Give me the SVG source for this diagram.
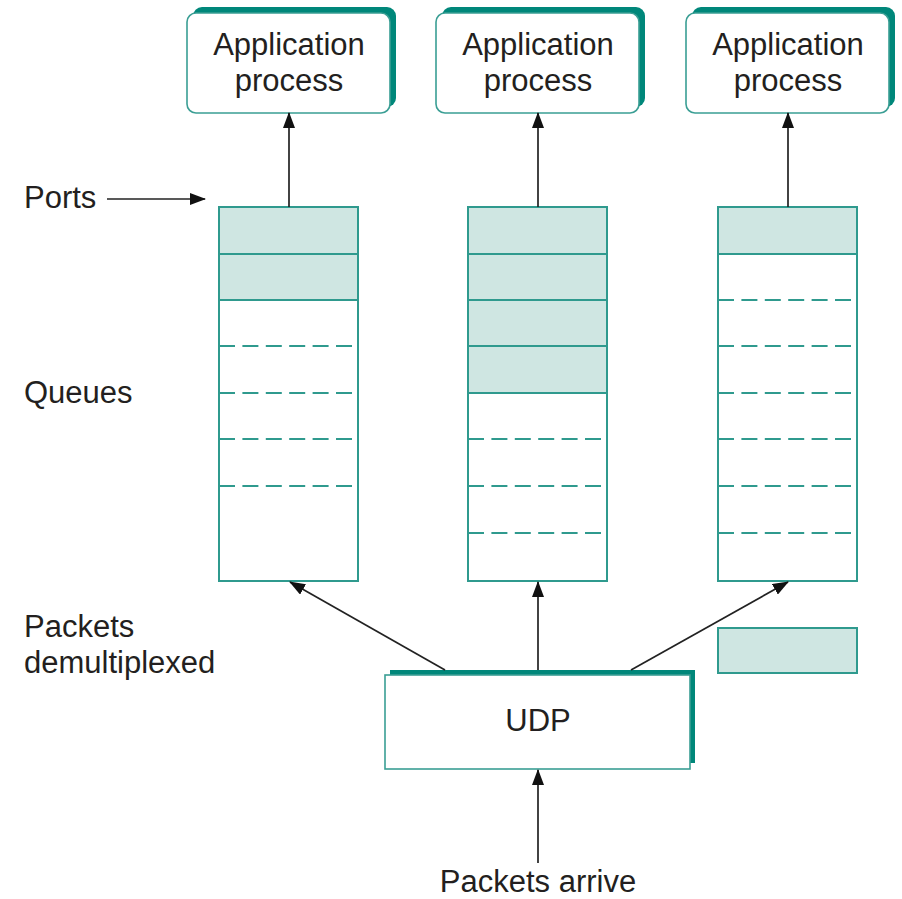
<svg xmlns="http://www.w3.org/2000/svg" width="902" height="899" viewBox="0 0 902 899">
<defs>
<style>
.t{font-family:"Liberation Sans",Arial,sans-serif;font-size:31px;fill:#231f20}
.c{text-anchor:middle}
.sh{fill:#00877a}
.box{fill:#fff;stroke:#3a9e94;stroke-width:1.6}
.q{fill:#fff;stroke:#2f9a8e;stroke-width:2}
.f{fill:#cfe6e2;stroke:#2f9a8e;stroke-width:2}
.d{stroke:#2f9a8e;stroke-width:2;stroke-dasharray:16 7.4;fill:none}
.a{stroke:#222;stroke-width:1.7;fill:none;marker-end:url(#ah)}
</style>
<marker id="ah" markerUnits="userSpaceOnUse" markerWidth="16" markerHeight="12" viewBox="0 0 16 12" refX="15" refY="6" orient="auto">
<path d="M0,0 L16,6 L0,12 Z" fill="#111"/>
</marker>
</defs>
<rect width="902" height="899" fill="#fff"/>

<g id="app1">
<rect class="sh" x="193" y="7" width="203" height="100" rx="9"/>
<rect class="box" x="187" y="13" width="203" height="100" rx="9"/>
<text class="t c" x="289" y="55">Application</text>
<text class="t c" x="289" y="91">process</text>
</g>
<g id="app2">
<rect class="sh" x="442" y="7" width="203" height="100" rx="9"/>
<rect class="box" x="436" y="13" width="203" height="100" rx="9"/>
<text class="t c" x="538" y="55">Application</text>
<text class="t c" x="538" y="91">process</text>
</g>
<g id="app3">
<rect class="sh" x="692" y="7" width="203" height="100" rx="9"/>
<rect class="box" x="686" y="13" width="203" height="100" rx="9"/>
<text class="t c" x="788" y="55">Application</text>
<text class="t c" x="788" y="91">process</text>
</g>

<g id="queue1">
<rect class="q" x="219" y="207" width="139" height="374"/>
<rect class="f" x="219" y="207" width="139" height="47"/>
<rect class="f" x="219" y="254" width="139" height="46"/>
<path class="d" d="M219,346H353M219,393H353M219,439H353M219,486H353"/>
</g>
<g id="queue2">
<rect class="q" x="468" y="207" width="139" height="374"/>
<rect class="f" x="468" y="207" width="139" height="47"/>
<rect class="f" x="468" y="254" width="139" height="46"/>
<rect class="f" x="468" y="300" width="139" height="46"/>
<rect class="f" x="468" y="346" width="139" height="47"/>
<path class="d" d="M468,439H602M468,486H602M468,533H602"/>
</g>
<g id="queue3">
<rect class="q" x="718" y="207" width="139" height="374"/>
<rect class="f" x="718" y="207" width="139" height="47"/>
<path class="d" d="M718,300H852M718,346H852M718,393H852M718,439H852M718,486H852M718,533H852"/>
</g>

<g id="packet">
<rect class="f" x="718" y="628" width="139" height="45"/>
</g>

<g id="udp">
<rect class="sh" x="390" y="670" width="305" height="93"/>
<rect class="box" x="385" y="675" width="305" height="94"/>
<text class="t c" x="538" y="731">UDP</text>
</g>

<g id="labels">
<text class="t" x="24" y="208">Ports</text>
<text class="t" x="24" y="403">Queues</text>
<text class="t" x="24" y="637">Packets</text>
<text class="t" x="24" y="673">demultiplexed</text>
<text class="t c" x="538" y="892">Packets arrive</text>
</g>

<g id="connectors">
<line class="a" x1="107" y1="199" x2="205" y2="199"/>
<line class="a" x1="289" y1="207" x2="289" y2="113"/>
<line class="a" x1="538" y1="207" x2="538" y2="113"/>
<line class="a" x1="788" y1="207" x2="788" y2="113"/>
<line class="a" x1="445" y1="670" x2="290" y2="582"/>
<line class="a" x1="538" y1="670" x2="538" y2="582"/>
<line class="a" x1="631" y1="670" x2="788" y2="582"/>
<line class="a" x1="538" y1="863" x2="538" y2="770"/>
</g>
</svg>
